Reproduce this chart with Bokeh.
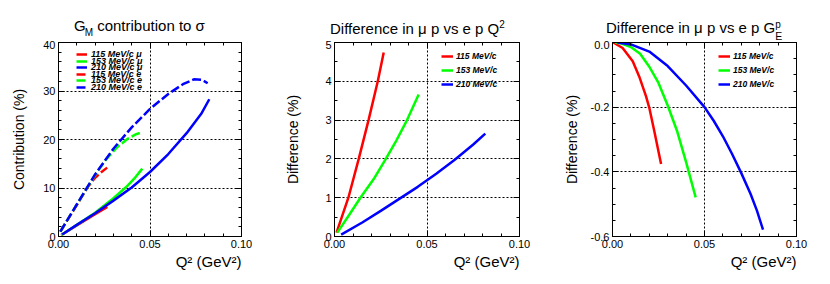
from bokeh.plotting import figure
from bokeh.layouts import row, column
from bokeh.models import (FixedTicker, LinearAxis, Legend, LegendItem, Title, Div,
                          NumeralTickFormatter, CustomJSTickFormatter, Range1d)
from bokeh.embed import file_html
from bokeh.resources import INLINE

FONT = "Liberation Sans"
RED, GREEN, BLUE = "#ff0000", "#00ff00", "#0000ff"

# ---------------- Panel 1: G_M contribution to sigma ----------------
q_mu_115 = [0.0015, 0.010, 0.020, 0.0267]
c_mu_115 = [0.3, 2.3, 4.6, 6.1]
q_mu_153 = [0.0015, 0.010, 0.020, 0.030, 0.037, 0.042, 0.0458]
c_mu_153 = [0.3, 2.4, 4.9, 7.9, 10.2, 12.2, 14.0]
q_mu_210 = [0.002, 0.010, 0.020, 0.030, 0.040, 0.050, 0.060, 0.070, 0.078, 0.0824]
c_mu_210 = [0.4, 2.4, 4.8, 7.4, 10.1, 13.3, 17.0, 21.3, 25.3, 28.3]
q_e_115 = [0.001, 0.010, 0.016, 0.020, 0.0235, 0.0266]
c_e_115 = [1.0, 6.5, 10.2, 12.1, 13.3, 14.2]
q_e_153 = [0.001, 0.010, 0.020, 0.026, 0.032, 0.038, 0.0425, 0.0458]
c_e_153 = [1.0, 6.6, 12.7, 15.9, 18.4, 20.2, 21.1, 21.5]
q_e_210 = [0.001, 0.010, 0.020, 0.030, 0.040, 0.050, 0.060, 0.068, 0.074, 0.0785, 0.0815]
c_e_210 = [1.0, 6.6, 12.8, 18.1, 22.5, 26.3, 29.4, 31.4, 32.4, 32.3, 31.6]

# ---------------- Panel 2: difference in mu p vs e p Q^2 ----------------
q2_115 = [0.0011, 0.0075, 0.0131, 0.0184, 0.0234, 0.0266]
d2_115 = [0.1, 1.0, 2.0, 3.0, 4.0, 4.74]
q2_153 = [0.0015, 0.008, 0.014, 0.0212, 0.0275, 0.0335, 0.0392, 0.0455]
d2_153 = [0.1, 0.56, 1.0, 1.48, 1.98, 2.48, 3.0, 3.66]
q2_210 = [0.0036, 0.015, 0.025, 0.035, 0.045, 0.055, 0.065, 0.075, 0.0815]
d2_210 = [0.05, 0.36, 0.66, 0.97, 1.28, 1.62, 1.98, 2.37, 2.65]

# ---------------- Panel 3: difference in mu p vs e p G_E^p ----------------
q3_115 = [0.0004, 0.0055, 0.011, 0.0145, 0.0182, 0.020, 0.0227, 0.0264]
d3_115 = [0.0, -0.017, -0.058, -0.105, -0.166, -0.202, -0.274, -0.376]
q3_153 = [0.0015, 0.005, 0.010, 0.015, 0.020, 0.025, 0.030, 0.035, 0.040, 0.0452]
d3_153 = [0.0, -0.003, -0.014, -0.035, -0.075, -0.125, -0.195, -0.272, -0.370, -0.479]
q3_210 = [0.0027, 0.010, 0.020, 0.030, 0.040, 0.050, 0.055, 0.060, 0.065, 0.070, 0.075, 0.0785, 0.0818]
d3_210 = [0.0, -0.006, -0.028, -0.073, -0.133, -0.200, -0.242, -0.290, -0.345, -0.404, -0.468, -0.520, -0.579]

labels_p1 = ["115 MeV/c \u03bc", "153 MeV/c \u03bc", "210 MeV/c \u03bc",
             "115 MeV/c e", "153 MeV/c e", "210 MeV/c e"]
labels_p23 = ["115 MeV/c", "153 MeV/c", "210 MeV/c"]

x_major = [0.0, 0.05, 0.10]
x_minor = [i / 100 for i in range(0, 11)]

TITLE_CSS = ("white-space:nowrap;font-family:'Liberation Sans',Arial,sans-serif;"
             "font-size:15px;line-height:15px;color:#000;")
DIV_H = 40


def style_axis(ax, fmt, hidden=False):
    ax.major_tick_in = 6
    ax.major_tick_out = 0
    ax.minor_tick_in = 3
    ax.minor_tick_out = 0
    ax.axis_line_color = "black"
    ax.major_tick_line_color = "black"
    ax.minor_tick_line_color = "black"
    ax.major_label_text_font = FONT
    ax.major_label_text_font_size = "0px" if hidden else "11px"
    ax.major_label_text_color = "black"
    ax.major_label_standoff = 0 if hidden else 3
    ax.formatter = fmt


def make_fig(left, right, frame_w, y_range, y_major, y_minor, y_grid,
             yfmt, ylabel, ylab_standoff):
    p = figure(frame_width=frame_w, frame_height=194, x_range=Range1d(0.0, 0.1),
               y_range=Range1d(*y_range), output_backend="svg",
               toolbar_location=None, min_border_left=left,
               min_border_right=right, min_border_top=2, min_border_bottom=40,
               background_fill_color="white", border_fill_color="white",
               margin=0)
    p.outline_line_color = "black"
    p.outline_line_width = 1
    xt = FixedTicker(ticks=x_major, minor_ticks=x_minor)
    yt = FixedTicker(ticks=y_major, minor_ticks=y_minor)
    xa = p.xaxis[0]
    ya = p.yaxis[0]
    xa.ticker = xt
    ya.ticker = yt
    style_axis(xa, NumeralTickFormatter(format="0.00"))
    style_axis(ya, NumeralTickFormatter(format=yfmt))
    ya.axis_label = ylabel
    ya.axis_label_text_font = FONT
    ya.axis_label_text_font_size = "14px"
    ya.axis_label_text_font_style = "normal"
    ya.axis_label_text_color = "black"
    ya.axis_label_standoff = ylab_standoff
    ta = LinearAxis(ticker=xt)
    style_axis(ta, CustomJSTickFormatter(code="return '';"), hidden=True)
    ra = LinearAxis(ticker=yt)
    style_axis(ra, CustomJSTickFormatter(code="return '';"), hidden=True)
    p.add_layout(ta, "above")
    p.add_layout(ra, "right")
    p.xgrid.ticker = FixedTicker(ticks=[0.05])
    p.ygrid.ticker = FixedTicker(ticks=y_grid)
    for g in (p.xgrid[0], p.ygrid[0]):
        g.grid_line_color = "black"
        g.grid_line_dash = "2 2"
        g.grid_line_width = 1
    p.add_layout(Title(text="Q\u00b2 (GeV\u00b2)", align="right", standoff=0,
                       text_font=FONT, text_font_size="15px",
                       text_font_style="normal", text_color="black"), "below")
    return p


def make_legend(items, x, y, gw, gh, spacing, standoff, size):
    return Legend(items=items, location=(x, y), glyph_width=gw, glyph_height=gh,
                  label_height=gh, spacing=spacing, label_standoff=standoff,
                  padding=0, margin=0, border_line_color=None,
                  background_fill_alpha=0, label_text_font=FONT,
                  label_text_font_style="bold italic",
                  label_text_font_size=size, label_text_color="black")


def title_div(html, width, left, top):
    return Div(text=f'<div style="{TITLE_CSS}margin-left:{left}px;padding-top:{top}px;">{html}</div>',
               width=width, height=DIV_H, margin=0)


LW = 2.5
DASH = "9 3"

# figure geometry: fig1 0-274, fig2 274-552, fig3 552-826
# ---------- Panel 1 ----------
p1 = make_fig(58, 33, 183, (0, 40), [0, 10, 20, 30, 40],
              list(range(0, 41, 2)), [10, 20, 30], "0", "Contribution (%)", 13)
r1 = p1.line(q_mu_115, c_mu_115, color=RED, line_width=LW)
r2 = p1.line(q_mu_153, c_mu_153, color=GREEN, line_width=LW)
r3 = p1.line(q_mu_210, c_mu_210, color=BLUE, line_width=LW)
r4 = p1.line(q_e_115, c_e_115, color=RED, line_width=LW, line_dash=DASH)
r5 = p1.line(q_e_153, c_e_153, color=GREEN, line_width=LW, line_dash=DASH)
r6 = p1.line(q_e_210, c_e_210, color=BLUE, line_width=LW, line_dash=DASH)
rs1 = [r1, r2, r3, r4, r5, r6]
p1.add_layout(make_legend([LegendItem(label=labels_p1[i], renderers=[rs1[i]]) for i in (0, 2, 4)],
                          18, 150, 11, 12, 1, 4, "9px"))
p1.add_layout(make_legend([LegendItem(label=labels_p1[i], renderers=[rs1[i]]) for i in (1, 3, 5)],
                          18, 143, 11, 12, 1, 4, "9px"))
d1 = title_div('G<span style="font-size:10px;position:relative;top:4.5px;margin-left:-1px;">M</span>'
               ' contribution to \u03c3', 274, 74, 18)

# ---------- Panel 2 ----------
p2 = make_fig(60, 33, 185, (0, 5), [0, 1, 2, 3, 4, 5],
              [i / 2 for i in range(0, 11)], [1, 2, 3, 4], "0", "Difference (%)", 21)
s1 = p2.line(q2_115, d2_115, color=RED, line_width=LW)
s2 = p2.line(q2_153, d2_153, color=GREEN, line_width=LW)
s3 = p2.line(q2_210, d2_210, color=BLUE, line_width=LW)
p2.add_layout(make_legend([LegendItem(label=l, renderers=[r]) for l, r in zip(labels_p23, [s1, s2, s3])],
                          107, 146, 12, 12, 2, 3, "8.5px"))
d2 = title_div('Difference in \u03bc p vs e p Q<span style="font-size:10px;position:relative;top:-6px;">2</span>',
               278, 56, 21)

# ---------- Panel 3 ----------
p3 = make_fig(60, 30, 184, (-0.6, 0.0), [-0.6, -0.4, -0.2, 0.0],
              [round(-0.6 + 0.05 * i, 2) for i in range(13)], [-0.4, -0.2], "0.0",
              "Difference (%)", 8)
t1 = p3.line(q3_115, d3_115, color=RED, line_width=LW)
t2 = p3.line(q3_153, d3_153, color=GREEN, line_width=LW)
t3 = p3.line(q3_210, d3_210, color=BLUE, line_width=LW)
p3.add_layout(make_legend([LegendItem(label=l, renderers=[r]) for l, r in zip(labels_p23, [t1, t2, t3])],
                          106, 146, 12, 12, 2, 3, "8.5px"))
d3 = title_div('Difference in \u03bc p vs e p G'
               '<span style="font-size:10.5px;position:relative;top:7px;">E</span>'
               '<span style="font-size:10px;position:relative;top:-5px;margin-left:-7px;">p</span>',
               274, 54, 20)

layout = row(column(d1, p1, spacing=0), column(d2, p2, spacing=0),
             column(d3, p3, spacing=0), spacing=0)
open("out.html", "w").write(file_html(layout, INLINE))
